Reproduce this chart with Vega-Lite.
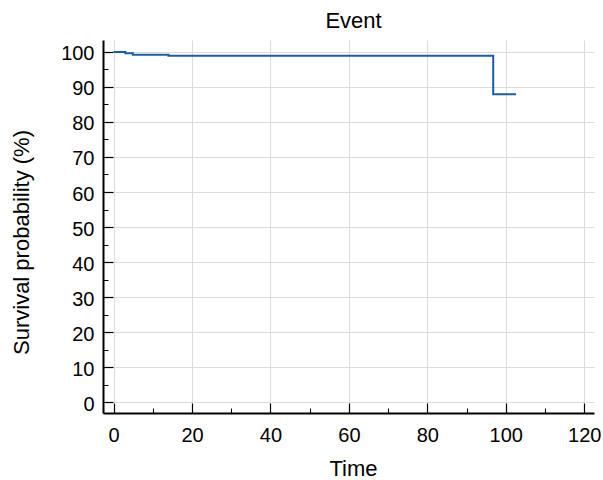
{
  "$schema": "https://vega.github.io/schema/vega-lite/v6.json",
  "width": 491,
  "height": 373,
  "autosize": "none",
  "padding": {"left": 103, "top": 40, "right": 9, "bottom": 67},
  "background": "white",
  "title": {"text": "Event", "fontSize": 22, "font": "Liberation Sans", "fontWeight": "normal", "color": "#000000", "frame": "group", "baseline": "alphabetic", "offset": -10, "dx": 5},
  "config": {
    "view": {"stroke": null},
    "font": "Liberation Sans"
  },
  "resolve": {"axis": {"x": "independent", "y": "independent"}},
  "data": {
    "values": [
      {"time": 0, "survival": 100},
      {"time": 3, "survival": 99.6},
      {"time": 4.9, "survival": 99.2},
      {"time": 14, "survival": 98.9},
      {"time": 96.8, "survival": 87.9},
      {"time": 102.6, "survival": 87.9}
    ]
  },
  "layer": [
    {
      "mark": {"type": "line", "interpolate": "step-after", "color": "#1a5ca8", "strokeWidth": 2, "clip": true},
      "encoding": {
        "x": {
          "field": "time", "type": "quantitative",
          "scale": {"domain": [-2.7, 122.5], "nice": false, "zero": false},
          "axis": {
            "orient": "bottom",
            "title": "Time", "titleFontSize": 22, "titleFontWeight": "normal", "titleColor": "#000000",
            "titleX": 250, "titleY": 62, "titleBaseline": "alphabetic", "titleAlign": "center",
            "values": [0, 20, 40, 60, 80, 100, 120],
            "labelFontSize": 20, "labelColor": "#000000", "labelPadding": 22, "labelFlush": false,
            "tickSize": -10, "tickColor": "#000000", "tickWidth": 1.2,
            "domainColor": "#000000", "domainWidth": 2,
            "grid": true, "gridColor": "#dcdcdc", "gridWidth": 1
          }
        },
        "y": {
          "field": "survival", "type": "quantitative",
          "scale": {"domain": [-3.1, 103.4], "nice": false, "zero": false},
          "axis": {
            "orient": "left",
            "title": "Survival probability (%)", "titleFontSize": 22, "titleFontWeight": "normal", "titleColor": "#000000",
            "titleX": -92, "titleY": 202, "titleBaseline": "top", "titleAlign": "center", "titleAngle": -90,
            "values": [0, 10, 20, 30, 40, 50, 60, 70, 80, 90, 100],
            "labelFontSize": 20, "labelColor": "#000000", "labelPadding": 19, "labelOffset": 2, "labelFlush": false,
            "tickSize": -10, "tickColor": "#000000", "tickWidth": 1.2,
            "domainColor": "#000000", "domainWidth": 2,
            "grid": true, "gridColor": "#dcdcdc", "gridWidth": 1
          }
        }
      }
    },
    {
      "mark": {"type": "point", "opacity": 0},
      "encoding": {
        "x": {
          "field": "time", "type": "quantitative",
          "axis": {
            "orient": "bottom", "title": null, "labels": false, "grid": false, "domain": false,
            "values": [10, 30, 50, 70, 90, 110],
            "tickSize": -5, "tickColor": "#000000", "tickWidth": 1
          }
        },
        "y": {
          "field": "survival", "type": "quantitative",
          "axis": {
            "orient": "left", "title": null, "labels": false, "grid": false, "domain": false,
            "values": [5, 15, 25, 35, 45, 55, 65, 75, 85, 95],
            "tickSize": -5, "tickColor": "#000000", "tickWidth": 1
          }
        }
      }
    }
  ]
}
